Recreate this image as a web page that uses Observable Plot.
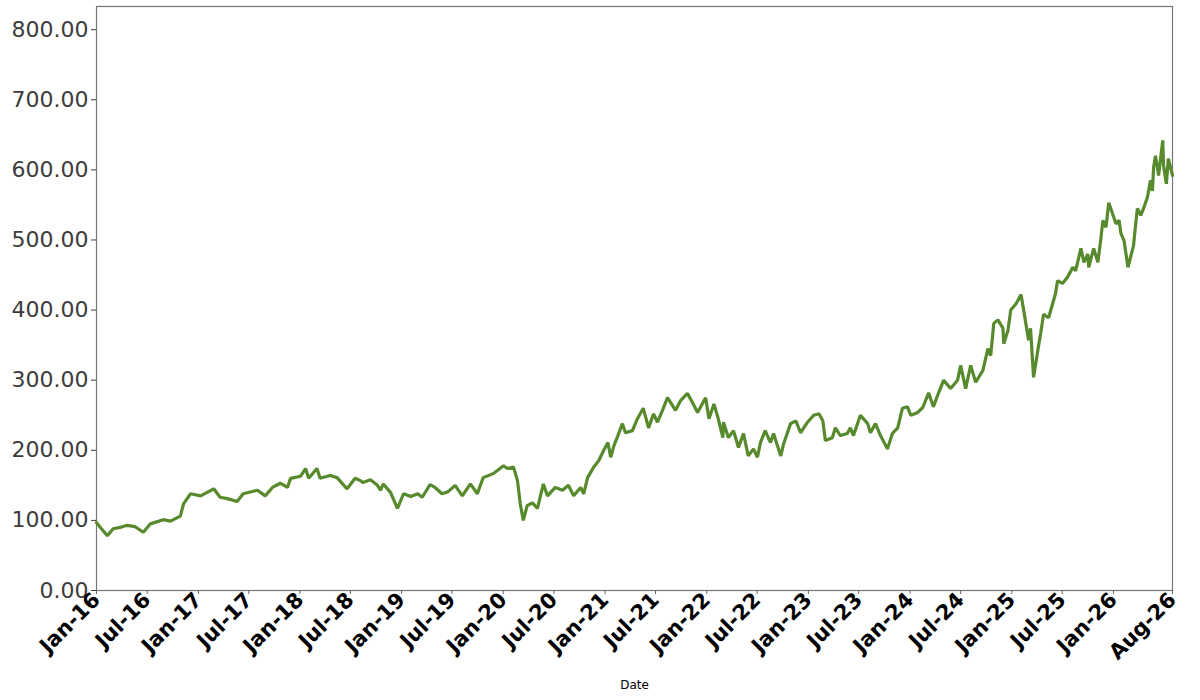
<!DOCTYPE html>
<html>
<head>
<meta charset="utf-8">
<script src="https://cdn.jsdelivr.net/npm/d3@7"></script>
<script src="https://cdn.jsdelivr.net/npm/@observablehq/plot@0.6"></script>
<style>
  html, body { margin: 0; padding: 0; background: #fff; }
  #chart { width: 1200px; height: 700px; }
</style>
</head>
<body>
<div id="chart"></div>
<script>
const dates = [
  "2016-01-01","2016-01-15","2016-02-09","2016-03-01","2016-03-26","2016-04-19","2016-05-19","2016-06-17","2016-07-12","2016-08-28",
  "2016-09-23","2016-10-28","2016-11-09","2016-12-04","2017-01-09","2017-02-25","2017-03-20","2017-04-15","2017-05-20","2017-06-11",
  "2017-08-01","2017-08-29","2017-09-24","2017-10-22","2017-11-17","2017-11-28","2018-01-03","2018-01-21","2018-02-01","2018-03-03",
  "2018-03-14","2018-04-19","2018-05-14","2018-06-19","2018-07-18","2018-08-05","2018-08-15","2018-09-11","2018-10-06","2018-10-17",
  "2018-10-27","2018-11-22","2018-12-17","2019-01-08","2019-02-03","2019-02-28","2019-03-16","2019-04-13","2019-05-01","2019-05-26",
  "2019-06-17","2019-07-12","2019-08-07","2019-09-05","2019-09-30","2019-10-21","2019-11-27","2020-01-02","2020-01-16","2020-02-07",
  "2020-02-21","2020-03-02","2020-03-13","2020-03-27","2020-04-15","2020-05-03","2020-05-24","2020-06-08","2020-07-06","2020-08-01",
  "2020-08-22","2020-09-10","2020-10-05","2020-10-16","2020-10-30","2020-11-21","2020-12-09","2020-12-27","2021-01-11","2021-01-21",
  "2021-02-02","2021-02-16","2021-03-04","2021-03-15","2021-04-09","2021-04-27","2021-05-18","2021-06-06","2021-06-24","2021-07-08",
  "2021-07-26","2021-08-13","2021-09-11","2021-09-29","2021-10-24","2021-11-11","2021-11-29","2021-12-28","2022-01-09","2022-01-27",
  "2022-02-10","2022-02-28","2022-03-02","2022-03-20","2022-04-07","2022-04-25","2022-05-13","2022-05-30","2022-06-18","2022-07-02",
  "2022-07-13","2022-07-30","2022-08-18","2022-08-29","2022-09-24","2022-10-04","2022-10-29","2022-11-17","2022-12-04","2022-12-29",
  "2023-01-20","2023-02-08","2023-02-22","2023-03-03","2023-03-28","2023-04-08","2023-04-26","2023-05-21","2023-06-01","2023-06-12",
  "2023-07-07","2023-08-02","2023-08-12","2023-08-30","2023-09-17","2023-10-12","2023-10-30","2023-11-18","2023-12-05","2023-12-23",
  "2024-01-04","2024-01-29","2024-02-16","2024-03-08","2024-03-25","2024-04-09","2024-05-01","2024-05-26","2024-06-20","2024-07-01",
  "2024-07-19","2024-08-06","2024-08-24","2024-09-19","2024-10-07","2024-10-17","2024-10-28","2024-11-12","2024-11-30","2024-12-03",
  "2024-12-18","2024-12-28","2025-01-16","2025-02-03","2025-02-14","2025-03-02","2025-03-09","2025-03-20","2025-04-04","2025-04-14",
  "2025-04-25","2025-05-13","2025-06-07","2025-06-14","2025-07-02","2025-07-20","2025-08-08","2025-08-18","2025-09-06","2025-09-17",
  "2025-10-01","2025-10-04","2025-10-22","2025-11-06","2025-11-17","2025-11-24","2025-12-05","2025-12-15","2025-12-29","2026-01-10",
  "2026-01-21","2026-01-28","2026-02-08","2026-02-22","2026-03-03","2026-03-14","2026-03-21","2026-03-28","2026-04-09","2026-04-19",
  "2026-05-03","2026-05-14","2026-05-21","2026-05-25","2026-06-01","2026-06-12","2026-06-27","2026-06-30","2026-07-10","2026-07-17",
  "2026-08-01"
];
const values = [
  97,90,78,88,90,93,91,83,95,101,
  99,106,124,138,135,145,133,131,127,138,
  143,135,147,153,147,160,163,174,160,174,
  160,164,161,145,160,157,154,158,150,143,
  152,140,117,138,134,138,133,151,147,138,
  141,150,135,152,138,161,167,178,174,176,
  157,124,100,121,125,117,152,135,147,143,
  150,135,147,138,161,176,185,200,211,190,
  207,221,238,225,228,245,260,232,252,240,
  257,275,257,271,281,268,254,275,245,266,
  247,218,240,218,228,204,224,192,202,190,
  211,228,211,224,192,209,238,242,225,240,
  250,252,242,214,218,232,221,224,232,221,
  250,238,225,238,221,202,224,232,260,262,
  250,254,261,282,262,278,300,288,300,321,
  288,321,297,314,345,335,381,386,374,352,
  371,400,409,422,396,357,374,304,342,366,
  394,389,424,442,438,447,461,456,488,468,
  480,461,488,468,503,528,518,553,537,523,
  528,509,499,461,475,492,520,545,535,545,
  561,585,570,603,620,592,642,606,580,616,
  592
];
const xTickDates = [
  "2016-01-01","2016-07-01","2017-01-01","2017-07-01","2018-01-01","2018-07-01",
  "2019-01-01","2019-07-01","2020-01-01","2020-07-01","2021-01-01","2021-07-01",
  "2022-01-01","2022-07-01","2023-01-01","2023-07-01","2024-01-01","2024-07-01",
  "2025-01-01","2025-07-01","2026-01-01","2026-08-01"
];
const yTicks = [0, 100, 200, 300, 400, 500, 600, 700, 800];
const xLabel = "Date";

const parse = d3.utcParse("%Y-%m-%d");
const data = dates.map((d, i) => ({date: parse(d), value: values[i]}));
const xTicks = xTickDates.map(parse);
const fmtX = d3.utcFormat("%b-%y");

const chart = Plot.plot({
  width: 1200,
  height: 700,
  marginLeft: 96,
  marginRight: 28,
  marginTop: 6,
  marginBottom: 110,
  style: {fontFamily: "DejaVu Sans", background: "#fff"},
  x: {type: "utc", domain: [parse("2016-01-01"), parse("2026-08-01")]},
  y: {domain: [0, 833]},
  marks: [
    Plot.frame({stroke: "#777", strokeWidth: 1.2}),
    Plot.lineY(data, {x: "date", y: "value", stroke: "#568a2c", strokeWidth: 3.2, strokeLinejoin: "miter", curve: "linear"}),
    Plot.axisY({
      ticks: yTicks, tickFormat: d3.format(".2f"), tickSize: 5, tickPadding: 3,
      fontSize: 22, fill: "#3c3c3c", stroke: "#404040", label: null
    }),
    Plot.axisX({
      ticks: xTicks, tickFormat: fmtX, tickSize: 4, tickPadding: 2, tickRotate: -45,
      fontSize: 21, fontWeight: "bold", fill: "#000", stroke: "#666",
      label: null
    }),
    Plot.axisX({
      ticks: [], tickSize: 0, label: xLabel, labelAnchor: "center", labelArrow: "none",
      labelOffset: 98, fontSize: 12, fill: "#000"
    })
  ]
});
document.getElementById("chart").appendChild(chart);
</script>
</body>
</html>
